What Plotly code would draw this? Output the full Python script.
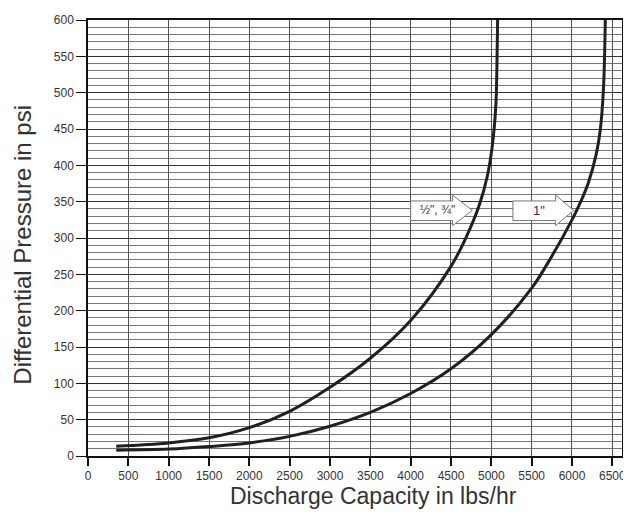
import plotly.graph_objects as go

# Data
cap_small = [350, 1000, 1500, 2000, 2500, 3000, 3500, 4000, 4500, 4700, 4850, 4950, 5010, 5055, 5070, 5078]
psi_small = [13.5, 18, 25, 39, 61.5, 94.5, 134.5, 186.5, 261, 304, 345, 385, 425, 480, 540, 600]

cap_1in = [350, 1000, 1500, 2000, 2500, 3000, 3500, 4000, 4500, 5000, 5500, 5750, 6000, 6100, 6200, 6300, 6350, 6390, 6413]
psi_1in = [8, 9.5, 13, 18, 27, 41, 60, 86, 120, 167, 231, 275, 325, 348, 375, 415, 448, 505, 600]

x_ticks = list(range(0, 7000, 500))
y_ticks = list(range(0, 650, 50))

label_small = "½\", ¾\""
label_1in = "1\""
x_title = "Discharge Capacity in lbs/hr"
y_title = "Differential Pressure in psi"

font = "Liberation Sans, Arial, sans-serif"
curve_color = "#231f20"

fig = go.Figure()
fig.add_trace(go.Scatter(x=cap_small, y=psi_small, mode="lines",
                         line=dict(color=curve_color, width=3, shape="spline", smoothing=1.0),
                         showlegend=False, hoverinfo="skip"))
fig.add_trace(go.Scatter(x=cap_1in, y=psi_1in, mode="lines",
                         line=dict(color=curve_color, width=3, shape="spline", smoothing=1.0),
                         showlegend=False, hoverinfo="skip"))


def arrow_path(x0, x1, x2, yb0, yb1, yh0, yh1):
    ym = (yh0 + yh1) / 2
    return (f"M {x0},{yb0} L {x1},{yb0} L {x1},{yh0} L {x2},{ym} "
            f"L {x1},{yh1} L {x1},{yb1} L {x0},{yb1} Z")


shapes = [
    dict(type="path", xref="x", yref="y",
         path=arrow_path(4000, 4520, 4765, 324, 351, 317, 359),
         fillcolor="white", line=dict(color="#777", width=1)),
    dict(type="path", xref="x", yref="y",
         path=arrow_path(5268, 5797, 6020, 324, 351, 317, 359),
         fillcolor="white", line=dict(color="#777", width=1)),
]

annotations = [
    dict(x=4330, y=338, xref="x", yref="y", text=label_small, showarrow=False,
         font=dict(family=font, size=12, color="#333")),
    dict(x=5590, y=338, xref="x", yref="y", text=label_1in, showarrow=False,
         font=dict(family=font, size=13, color="#333")),
    dict(x=0.535, y=-0.0926, xref="paper", yref="paper", text=x_title, showarrow=False,
         xanchor="center", yanchor="middle",
         font=dict(family=font, size=23, color="#333")),
    dict(x=-0.1234, y=0.485, xref="paper", yref="paper", text=y_title, showarrow=False,
         textangle=-90, xanchor="center", yanchor="middle",
         font=dict(family=font, size=24, color="#333")),
]

fig.update_layout(
    width=623, height=506,
    margin=dict(l=80, r=8, t=5, b=58),
    paper_bgcolor="white", plot_bgcolor="white",
    font=dict(family=font, color="#333"),
    shapes=shapes, annotations=annotations,
    xaxis=dict(
        range=[0, 6620], tickvals=x_ticks, ticktext=[str(v) for v in x_ticks],
        showgrid=True, gridcolor="#555", gridwidth=1,
        ticks="outside", ticklen=8, tickwidth=2, tickcolor="#111",
        showline=True, linecolor="#111", linewidth=1.5, mirror=True,
        tickfont=dict(family=font, size=12, color="#333"),
        zeroline=False,
    ),
    yaxis=dict(
        range=[0, 600], tickvals=y_ticks,
        showgrid=True, gridcolor="#333", gridwidth=1,
        minor=dict(dtick=10, showgrid=True, gridcolor="#777", gridwidth=1),
        ticks="outside", ticklen=10, tickwidth=1, tickcolor="#111",
        showline=True, linecolor="#111", linewidth=1.5, mirror=True,
        tickfont=dict(family=font, size=12, color="#333"),
        zeroline=False,
    ),
)

fig.write_html("out.html")
